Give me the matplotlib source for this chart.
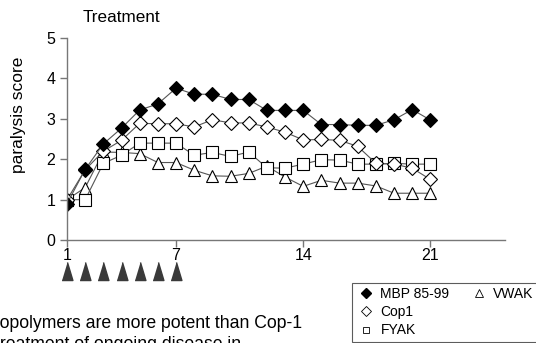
import matplotlib
matplotlib.use("Agg")
import matplotlib.pyplot as plt
from matplotlib.lines import Line2D

plt.rcParams['font.family'] = ['Liberation Sans', 'DejaVu Sans']

days = list(range(1, 22))
mbp = [0.9, 1.75, 2.38, 2.77, 3.22, 3.37, 3.76, 3.61, 3.61, 3.48, 3.48, 3.21,
       3.21, 3.21, 2.86, 2.86, 2.84, 2.84, 2.98, 3.23, 2.97]
cop1 = [1.0, 1.74, 2.2, 2.47, 2.89, 2.88, 2.88, 2.8, 2.98, 2.9, 2.9, 2.8,
        2.67, 2.48, 2.49, 2.47, 2.32, 1.9, 1.88, 1.78, 1.5]
fyak = [1.0, 1.0, 1.9, 2.1, 2.4, 2.4, 2.4, 2.1, 2.17, 2.07, 2.18, 1.79,
        1.78, 1.88, 1.99, 1.98, 1.88, 1.88, 1.9, 1.88, 1.88]
vwak = [1.0, 1.3, 2.18, 2.17, 2.14, 1.92, 1.92, 1.73, 1.59, 1.58, 1.65, 1.83,
        1.56, 1.33, 1.48, 1.41, 1.41, 1.34, 1.16, 1.16, 1.16]
treat_days = [1, 2, 3, 4, 5, 6, 7]
xticks = [1, 7, 14, 21]
yticks = [0, 1, 2, 3, 4, 5]

fig = plt.figure(figsize=(5.36, 3.43), dpi=100)
ax = fig.add_axes([0.125, 0.300, 0.817, 0.589])

lc = '#555555'
ax.plot(days, vwak, color=lc, lw=0.8, marker='^', ms=9, mfc='white', mec='black', mew=0.8)
ax.plot(days, fyak, color=lc, lw=0.8, marker='s', ms=8, mfc='white', mec='black', mew=0.8)
ax.plot(days, cop1, color=lc, lw=0.8, marker='D', ms=7, mfc='white', mec='black', mew=0.8)
ax.plot(days, mbp, color=lc, lw=0.8, marker='D', ms=7, mfc='black', mec='black', mew=0.8)

# treatment arrows under the axis
tri = [(-0.6, -1), (0.6, -1), (0, 1)]
ax.plot(treat_days, [-0.155] * len(treat_days), transform=ax.get_xaxis_transform(),
        ls='none', marker=tri, ms=13, color='#3a3a3a', clip_on=False)

ax.set_xlim(1, 25.1)
ax.set_ylim(0, 5)
ax.set_xticks(xticks)
ax.set_yticks(yticks)
ax.spines['top'].set_visible(False)
ax.spines['right'].set_visible(False)
for s in ['left', 'bottom']:
    ax.spines[s].set_color('#777777')
    ax.spines[s].set_linewidth(1.0)
ax.tick_params(colors='#777777', labelcolor='black', labelsize=11.5, length=5, width=1)
ax.tick_params(axis='x', pad=1)

fig.text(19 / 536, 1 - 114.5 / 343, 'paralysis score', fontsize=12.5,
         rotation=90, ha='center', va='center')
fig.text(83 / 536, 1 - 17.5 / 343, 'Treatment', fontsize=12.3, va='center')

blank = Line2D([], [], ls='none')
handles = [
    Line2D([], [], ls='none', marker='D', ms=5, mfc='black', mec='black'),
    Line2D([], [], ls='none', marker='D', ms=5, mfc='white', mec='black', mew=0.6),
    Line2D([], [], ls='none', marker='s', ms=5, mfc='white', mec='black', mew=0.6),
    Line2D([], [], ls='none', marker='^', ms=6, mfc='white', mec='black', mew=0.6),
    blank, blank,
]
labels = ['MBP 85-99', 'Cop1', 'FYAK', 'VWAK', '', '']
leg = fig.legend(handles, labels, ncol=2, loc='upper left',
                 bbox_to_anchor=(352 / 536, 1 - 283 / 343), fontsize=10,
                 frameon=True, fancybox=False, edgecolor='#333333',
                 handlelength=1.4, handletextpad=0.35, labelspacing=0.3,
                 columnspacing=1.4, borderpad=0.3, borderaxespad=0)
leg.get_frame().set_linewidth(0.8)

fig.text(-13 / 536, 1 - 328 / 343, 'Copolymers are more potent than Cop-1', fontsize=12.7, va='baseline')
fig.text(-5 / 536, 1 - 349 / 343, 'treatment of ongoing disease in', fontsize=12.7, va='baseline')

fig.savefig('out.png', dpi=100)
